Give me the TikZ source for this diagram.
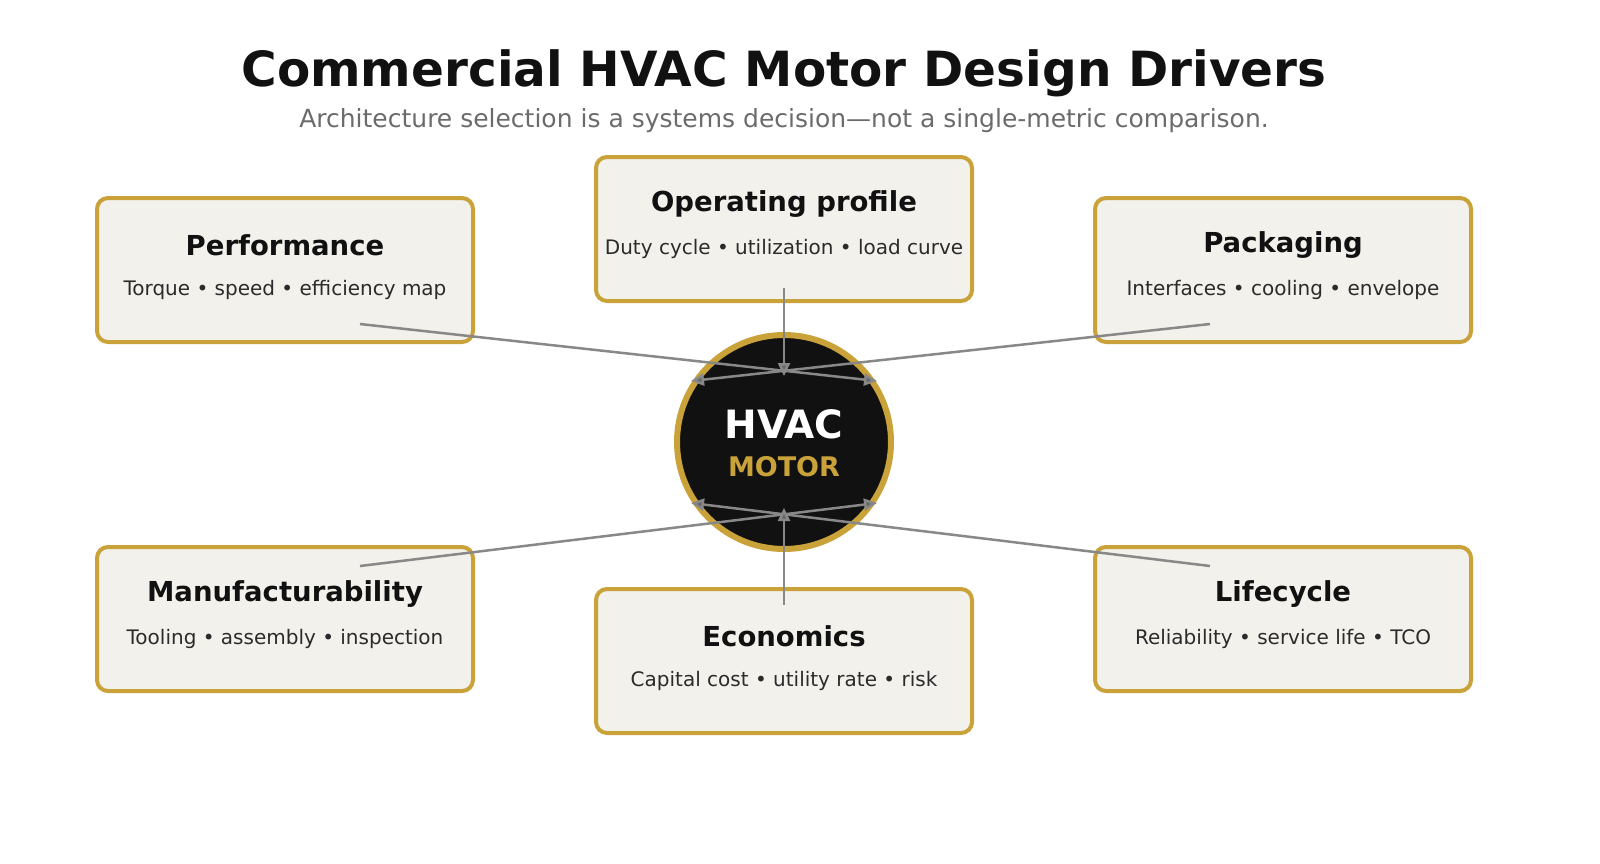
\documentclass[tikz,border=0pt]{standalone}
\usepackage{fontspec}
\setmainfont{DejaVu Sans}
\usetikzlibrary{arrows.meta}
\definecolor{gold}{HTML}{C9A23A}
\definecolor{boxfill}{HTML}{F2F1EC}
\definecolor{ink}{HTML}{111111}
\definecolor{sub}{HTML}{2B2B2B}
\definecolor{conn}{HTML}{888888}
\begin{document}
\begin{tikzpicture}[x=1pt,y=-1pt,
  box/.style={draw=gold,line width=4pt,fill=boxfill,rounded corners=11pt,minimum width=376pt,minimum height=144pt},
  bt/.style={font=\fontsize{27.5}{30}\selectfont\bfseries,text=ink},
  bs/.style={font=\fontsize{20}{22}\selectfont,text=sub},
  link/.style={draw=conn,line width=2.5pt,-{Triangle[length=13pt,width=12pt,fill=conn!75!black]}}]
\useasboundingbox (0,0) rectangle (1600,863);
\node[font=\fontsize{48.5}{52}\selectfont\bfseries,text=ink] (title) at (784,73) {Commercial HVAC Motor Design Drivers};
\node[font=\fontsize{25}{28}\selectfont,text=black!58] (subt) at (784,121) {Architecture selection is a systems decision—not a single-metric comparison.};
\foreach \n/\x/\y/\t/\s in {perf/285/270/Performance/Torque • speed • efficiency map,
  oper/784/229/Operating profile/Duty cycle • utilization • load curve,
  pack/1283/270/Packaging/Interfaces • cooling • envelope,
  manu/285/619/Manufacturability/Tooling • assembly • inspection,
  econ/784/661/Economics/Capital cost • utility rate • risk,
  life/1283/619/Lifecycle/Reliability • service life • TCO}{
  \node[box] (\n) at (\x,\y) {};
  \node[bt] (\n t) at (\x,\y-25) {\t};
  \node[bs] (\n s) at (\x,\y+20) {\s};
}
\node[circle,draw=gold,line width=6pt,fill=ink,minimum size=214pt] (hub) at (784,442) {};
\node[font=\fontsize{39}{40}\selectfont\bfseries,text=white] (hvac) at (784,424) {HVAC};
\node[font=\fontsize{27}{28}\selectfont\bfseries,text=gold] (motor) at (784,467) {MOTOR};
\coordinate (a1) at (360,324); \coordinate (b1) at (877,381);
\coordinate (a2) at (1210,324); \coordinate (b2) at (691,381);
\coordinate (a3) at (784,288); \coordinate (b3) at (784,376);
\coordinate (a4) at (360,566); \coordinate (b4) at (877,503);
\coordinate (a5) at (1210,566); \coordinate (b5) at (691,503);
\coordinate (a6) at (784,605); \coordinate (b6) at (784,508);
\foreach \i in {1,...,6}{\draw[link] (a\i) -- (b\i);}
\end{tikzpicture}
\end{document}
